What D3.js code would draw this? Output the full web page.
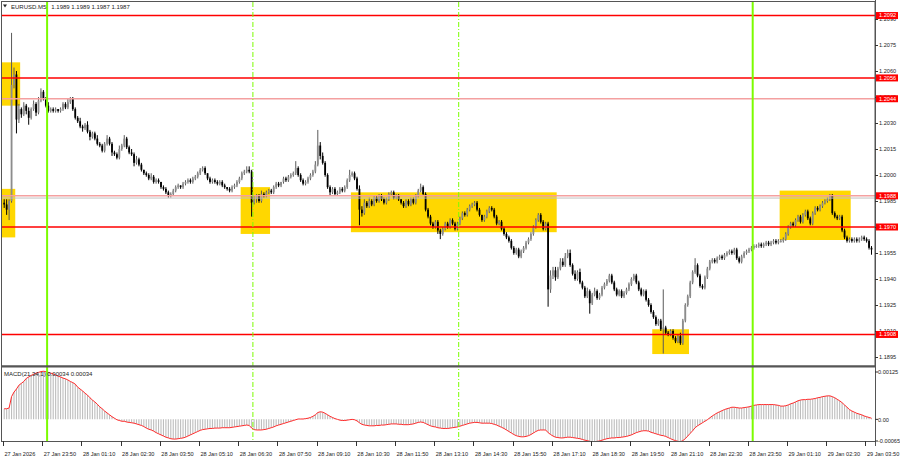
<!DOCTYPE html>
<html>
<head>
<meta charset="utf-8">
<script src="https://cdn.jsdelivr.net/npm/d3@7"></script>
<style>
  body { margin: 0; background: #fff; }
  svg text { font-family: "Liberation Sans", Arial, sans-serif; }
</style>
</head>
<body>
<div id="chart"></div>
<script>
// EURUSD M5, first bar 27 Jan 22:30 (server time), one value per 5-minute bar
const startTime = Date.UTC(2026, 0, 27, 22, 30);
const barMinutes = 5;

// closes in pips above 1.1900
const firstOpen = 84;
const closes = [
  83, 80, 85, 152, 158, 132, 138, 135, 140, 137,
  133, 138, 141, 136, 143, 148, 144, 140, 137, 138,
  137, 138, 137, 138, 141, 139, 142, 144, 138, 133,
  131, 128, 127, 129, 125, 122, 124, 121, 118, 117,
  114, 118, 121, 118, 113, 112, 110, 115, 117, 121,
  116, 113, 112, 107, 109, 106, 103, 101, 100, 98,
  99, 96, 97, 96, 93, 92, 90, 88, 89, 91,
  93, 94, 93, 95, 96, 97, 96, 98, 99, 101,
  103, 104, 101, 98, 96, 97, 96, 95, 96, 94,
  93, 92, 91, 93, 94, 96, 98, 101, 102, 103,
  102, 84, 86, 88, 85, 89, 88, 90, 91, 90,
  93, 95, 94, 96, 98, 97, 99, 100, 101, 104,
  100, 97, 95, 96, 98, 100, 102, 106, 117, 111,
  107, 100, 93, 90, 92, 89, 90, 92, 91, 93,
  97, 100, 101, 98, 92, 80, 78, 84, 82, 85,
  83, 87, 85, 88, 86, 84, 86, 89, 90, 87,
  88, 86, 84, 82, 85, 83, 86, 84, 88, 91,
  93, 89, 80, 76, 72, 70, 73, 68, 66, 69,
  72, 70, 74, 72, 69, 72, 75, 78, 77, 80,
  82, 83, 84, 80, 77, 74, 76, 79, 81, 80,
  76, 72, 73, 69, 66, 64, 62, 58, 55, 57,
  53, 56, 58, 61, 63, 66, 70, 74, 77, 73,
  69, 72, 34, 42, 45, 41, 46, 50, 48, 53,
  55, 48, 43, 40, 44, 38, 35, 30, 33, 26,
  31, 33, 29, 31, 35, 37, 39, 42, 38, 34,
  31, 33, 30, 32, 34, 37, 40, 42, 38, 34,
  31, 33, 28, 25, 21, 18, 14, 16, 11, 12,
  9, 8, 10, 6, 4, 7, 3, 16, 25, 30,
  38, 44, 48, 42, 36, 35, 41, 46, 50, 51,
  50, 52, 53, 52, 54, 55, 56, 55, 57, 52,
  50, 53, 55, 56, 57, 58, 59, 59, 60, 59,
  60, 61, 60, 61, 62, 61, 62, 62, 63, 66,
  70, 72, 71, 74, 76, 73, 77, 79, 75, 72,
  78, 81, 80, 82, 84, 85, 86, 88, 78, 76,
  75, 76, 68, 64, 62, 63, 62, 63, 62, 63,
  64, 63, 62, 58, 57
];

// wick lengths in pips above / below the body
const wickUp = [
  2, 3, 1, 30, 4, 2, 3, 1, 2, 1,
  2, 1, 2, 1, 2, 2, 1, 1, 2, 1,
  1, 1, 0, 1, 1, 1, 2, 1, 1, 1,
  1, 2, 1, 1, 2, 1, 1, 1, 2, 1,
  1, 1, 2, 1, 1, 1, 1, 2, 1, 2,
  1, 1, 2, 1, 2, 1, 1, 0, 1, 1,
  2, 1, 1, 1, 0, 1, 1, 1, 1, 1,
  1, 1, 0, 1, 1, 1, 1, 1, 1, 1,
  1, 1, 1, 0, 1, 1, 1, 1, 1, 1,
  1, 0, 1, 1, 1, 1, 1, 1, 1, 2,
  2, 1, 2, 1, 1, 2, 1, 1, 1, 1,
  1, 1, 1, 0, 1, 1, 1, 1, 1, 4,
  1, 1, 1, 1, 1, 1, 1, 2, 9, 2,
  2, 1, 1, 1, 1, 1, 1, 1, 1, 1,
  1, 3, 1, 1, 1, 2, 2, 2, 1, 2,
  1, 1, 1, 1, 1, 1, 1, 1, 1, 1,
  1, 1, 0, 1, 1, 1, 1, 1, 1, 1,
  2, 1, 1, 1, 1, 1, 1, 1, 1, 1,
  1, 1, 1, 1, 1, 1, 1, 1, 1, 1,
  1, 1, 1, 1, 1, 0, 1, 1, 1, 1,
  1, 1, 1, 1, 1, 1, 1, 1, 1, 1,
  1, 1, 1, 1, 1, 1, 1, 1, 1, 1,
  1, 1, 1, 3, 2, 2, 1, 2, 2, 2,
  2, 2, 1, 2, 1, 2, 1, 1, 2, 1,
  1, 2, 1, 1, 1, 1, 1, 1, 1, 1,
  1, 1, 1, 1, 1, 1, 1, 1, 1, 1,
  1, 1, 1, 1, 1, 1, 1, 1, 1, 22,
  1, 1, 1, 1, 1, 1, 2, 1, 1, 1,
  1, 1, 4, 1, 1, 1, 1, 1, 1, 1,
  1, 1, 1, 1, 1, 1, 1, 1, 1, 1,
  1, 1, 1, 1, 1, 1, 1, 1, 1, 1,
  1, 1, 1, 1, 1, 1, 1, 1, 1, 1,
  1, 1, 1, 1, 1, 1, 1, 1, 1, 1,
  1, 1, 1, 1, 1, 1, 1, 1, 1, 1,
  1, 1, 1, 1, 1, 1, 1, 1, 1, 1,
  1, 1, 1, 1, 1
];
const wickDn = [
  2, 3, 6, 1, 2, 8, 2, 2, 1, 2,
  4, 1, 1, 2, 1, 1, 1, 1, 1, 1,
  1, 1, 1, 1, 1, 1, 1, 1, 1, 1,
  1, 1, 2, 1, 1, 2, 1, 1, 1, 1,
  1, 1, 1, 1, 2, 1, 1, 1, 1, 1,
  1, 1, 1, 2, 1, 1, 1, 1, 1, 1,
  1, 1, 1, 1, 1, 1, 1, 1, 1, 1,
  1, 1, 1, 1, 1, 1, 1, 1, 1, 1,
  1, 1, 1, 1, 1, 1, 1, 1, 1, 1,
  1, 1, 1, 1, 1, 1, 1, 1, 1, 1,
  1, 8, 1, 2, 1, 1, 1, 1, 1, 1,
  1, 1, 1, 1, 1, 1, 1, 1, 1, 1,
  1, 1, 1, 1, 1, 1, 1, 1, 1, 2,
  1, 1, 1, 2, 1, 1, 1, 1, 1, 1,
  1, 1, 1, 1, 1, 9, 2, 1, 1, 1,
  1, 1, 1, 1, 1, 1, 1, 1, 1, 1,
  1, 1, 1, 1, 1, 1, 1, 1, 1, 1,
  1, 1, 1, 1, 1, 1, 1, 2, 3, 1,
  1, 1, 1, 1, 1, 1, 1, 1, 1, 1,
  1, 1, 1, 1, 1, 1, 1, 1, 1, 1,
  1, 1, 1, 1, 1, 1, 1, 1, 1, 1,
  1, 1, 1, 1, 1, 1, 1, 1, 1, 1,
  1, 1, 10, 2, 2, 2, 1, 1, 1, 1,
  1, 1, 1, 1, 1, 1, 1, 1, 1, 6,
  1, 1, 1, 1, 1, 1, 1, 1, 1, 1,
  1, 1, 1, 1, 1, 1, 1, 1, 1, 1,
  1, 1, 1, 1, 1, 1, 1, 1, 1, 14,
  1, 1, 1, 1, 1, 1, 1, 1, 1, 1,
  1, 1, 1, 1, 1, 1, 1, 1, 1, 1,
  1, 1, 1, 1, 1, 1, 1, 1, 1, 1,
  1, 1, 1, 1, 1, 1, 1, 1, 1, 1,
  1, 1, 1, 1, 1, 1, 1, 1, 1, 1,
  1, 1, 1, 1, 1, 1, 1, 1, 1, 1,
  1, 1, 1, 1, 1, 1, 1, 1, 1, 1,
  1, 1, 1, 1, 1, 1, 1, 1, 1, 1,
  1, 1, 1, 1, 3
];

// MACD(21,34,1) main line, units of 0.00001
const macd = [
  28, 28, 30, 60, 72, 80, 90, 95, 100, 108,
  112, 116, 119, 122, 124, 126, 127, 126, 124, 122,
  120, 117, 114, 112, 109, 107, 104, 100, 97, 93,
  85, 80, 75, 69, 64, 57, 51, 46, 40, 33,
  28, 22, 17, 12, 7, 3, -1, -3, -5, -5,
  -7, -8, -9, -10, -12, -14, -16, -19, -23, -26,
  -28, -31, -35, -38, -41, -44, -47, -49, -51, -52,
  -52, -51, -50, -49, -47, -44, -41, -38, -35, -32,
  -29, -27, -26, -25, -24, -24, -23, -23, -23, -22,
  -22, -22, -22, -21, -20, -19, -18, -17, -16, -15,
  -16, -23, -27, -28, -28, -28, -27, -26, -24, -22,
  -20, -17, -15, -13, -11, -9, -7, -5, -3, -1,
  1, 1, 1, 2, 3, 5, 8, 12, 18, 20,
  19, 16, 12, 8, 5, 2, 0, -2, -3, -3,
  -2, -1, 0, -1, -4, -9, -13, -15, -16, -17,
  -17, -17, -16, -16, -15, -15, -14, -13, -12, -12,
  -12, -13, -13, -14, -14, -14, -13, -12, -10, -8,
  -7, -8, -11, -14, -17, -19, -20, -22, -23, -24,
  -24, -24, -23, -22, -21, -20, -18, -16, -14, -12,
  -10, -9, -8, -8, -9, -10, -10, -10, -10, -11,
  -13, -15, -18, -21, -24, -28, -32, -36, -40, -43,
  -45, -46, -46, -45, -43, -40, -36, -32, -29, -28,
  -28, -28, -35, -40, -44, -47, -48, -49, -49, -48,
  -47, -47, -48, -49, -50, -51, -53, -55, -56, -58,
  -59, -59, -58, -57, -55, -53, -51, -50, -49, -49,
  -48, -48, -47, -46, -45, -43, -41, -38, -35, -33,
  -31, -30, -30, -31, -34, -36, -38, -40, -42, -43,
  -45, -48, -51, -54, -56, -58, -59, -56, -51, -44,
  -37, -30, -22, -17, -13, -9, -5, -1, 4, 9,
  13, 17, 20, 23, 26, 28, 30, 32, 32, 31,
  30, 30, 31, 32, 33, 35, 37, 38, 39, 39,
  39, 39, 39, 39, 39, 38, 37, 35, 35, 36,
  38, 41, 43, 46, 49, 51, 52, 52, 53, 53,
  54, 55, 57, 58, 60, 61, 62, 62, 60, 57,
  53, 49, 44, 38, 32, 26, 22, 19, 16, 14,
  12, 9, 7, 5, 3
];

const priceTicks = [1.2090, 1.2075, 1.2060, 1.2045, 1.2030, 1.2015, 1.2000,
                    1.1985, 1.1970, 1.1955, 1.1940, 1.1925, 1.1910, 1.1895];
const macdTicks = [0.00125, 0, -0.00065];
const macdTickLabels = ["0.00125", "0.00", "-0.00065"];

// horizontal levels (strong = red, weak = pink)
const strongLevels = [1.2092, 1.2056, 1.1970, 1.1908];
const weakLevels = [1.2044, 1.1988];
const bidPrice = 1.1987;

// session separators
const dayLines = ["2026-01-28T00:00Z", "2026-01-29T00:00Z"];
const sessionLines = ["2026-01-28T07:00Z", "2026-01-28T14:00Z"];

// highlighted zones: start, end, top price, bottom price
const zones = [
  ["2026-01-27T22:25Z", "2026-01-27T23:05Z", 1.2065, 1.2040],
  ["2026-01-27T22:25Z", "2026-01-27T22:55Z", 1.1992, 1.1964],
  ["2026-01-28T06:35Z", "2026-01-28T07:35Z", 1.1993, 1.1966],
  ["2026-01-28T10:20Z", "2026-01-28T17:20Z", 1.1990, 1.1967],
  ["2026-01-29T00:55Z", "2026-01-29T03:20Z", 1.1991, 1.19625],
  ["2026-01-28T20:35Z", "2026-01-28T21:50Z", 1.1911, 1.18967]
];

const headerText = "EURUSD.M5";
const headerValues = "1.1989 1.1989 1.1987 1.1987";
const macdTitle = "MACD(21,34,1) 0.00034 0.00034";

// ---------------------------------------------------------------
const W = 900, H = 460;
const plotL = 2, plotR = 875;
const mainT = 2, mainB = 366;
const subT = 367, subB = 441;
const step = barMinutes * 60000;
const pip = v => 1.19 + v / 10000;
const fs = 5.6;

const bars = closes.map((c, i) => {
  const o = i === 0 ? firstOpen : closes[i - 1];
  const hi = Math.max(o, c) + wickUp[i];
  const lo = Math.min(o, c) - wickDn[i];
  return { t: new Date(startTime + i * step), o: pip(o), c: pip(c), h: pip(hi), l: pip(lo), m: macd[i] / 100000 };
});

const x = d3.scaleUtc()
  .domain([new Date(startTime), new Date(startTime + closes.length * step)])
  .range([3, 3 + 2.45 * closes.length]);
const cx = d => x(d.t) + 1.2;

const y = d3.scaleLinear().domain([1.2090, 1.1895]).range([19, 357]);
const ym = d3.scaleLinear().domain([-0.00065, 0.00125]).range([444, 372]);

const svg = d3.select("#chart").append("svg")
  .attr("width", W).attr("height", H);

svg.append("rect").attr("width", W).attr("height", H).attr("fill", "#fff");

const defs = svg.append("defs");
defs.append("clipPath").attr("id", "clipMain").append("rect")
  .attr("x", plotL).attr("y", mainT).attr("width", plotR - plotL).attr("height", mainB - mainT);
defs.append("clipPath").attr("id", "clipSub").append("rect")
  .attr("x", plotL).attr("y", subT).attr("width", plotR - plotL).attr("height", subB - subT);

const main = svg.append("g").attr("clip-path", "url(#clipMain)");
const sub = svg.append("g").attr("clip-path", "url(#clipSub)");

// zones
main.selectAll("rect.zone").data(zones).join("rect")
  .attr("class", "zone")
  .attr("x", d => x(new Date(d[0])))
  .attr("width", d => x(new Date(d[1])) - x(new Date(d[0])))
  .attr("y", d => y(d[2]))
  .attr("height", d => y(d[3]) - y(d[2]))
  .attr("fill", "#ffd700");

// vertical separators across both panels
const vlines = svg.append("g");
vlines.selectAll("line.day").data(dayLines).join("line")
  .attr("x1", d => x(new Date(d))).attr("x2", d => x(new Date(d)))
  .attr("y1", mainT).attr("y2", subB)
  .attr("stroke", "#7cfc00").attr("stroke-width", 2);
vlines.selectAll("line.sess").data(sessionLines).join("line")
  .attr("x1", d => x(new Date(d))).attr("x2", d => x(new Date(d)))
  .attr("y1", mainT).attr("y2", subB)
  .attr("stroke", "#7cfc00").attr("stroke-width", 1)
  .attr("stroke-dasharray", "5,2,1,2");

// candles
const candles = main.append("g");
candles.selectAll("line").data(bars).join("line")
  .attr("x1", cx).attr("x2", cx)
  .attr("y1", d => y(d.h)).attr("y2", d => y(d.l))
  .attr("stroke", d => d.c >= d.o ? "#5a5a5a" : "#000")
  .attr("stroke-width", 1);
candles.selectAll("rect").data(bars).join("rect")
  .attr("x", d => cx(d) - 0.9)
  .attr("width", 1.8)
  .attr("y", d => y(Math.max(d.o, d.c)))
  .attr("height", d => Math.max(1, Math.abs(y(d.o) - y(d.c))))
  .attr("fill", d => d.c >= d.o ? "#8c8c8c" : "#000");

// horizontal levels
main.append("line")
  .attr("x1", plotL).attr("x2", plotR)
  .attr("y1", y(bidPrice) + 0.5).attr("y2", y(bidPrice) + 0.5)
  .attr("stroke", "#c0c0c0").attr("stroke-width", 1);
main.selectAll("line.weak").data(weakLevels).join("line")
  .attr("x1", plotL).attr("x2", plotR)
  .attr("y1", d => y(d)).attr("y2", d => y(d))
  .attr("stroke", "#f4a0a0").attr("stroke-width", 1.6);
main.selectAll("line.strong").data(strongLevels).join("line")
  .attr("x1", plotL).attr("x2", plotR)
  .attr("y1", d => y(d)).attr("y2", d => y(d))
  .attr("stroke", "#ff0000").attr("stroke-width", 1.6);

// MACD histogram and signal
sub.selectAll("line.hist").data(bars).join("line")
  .attr("x1", cx).attr("x2", cx)
  .attr("y1", ym(0)).attr("y2", d => ym(d.m))
  .attr("stroke", "#bdbdbd").attr("stroke-width", 1.1);
sub.append("path")
  .datum(bars)
  .attr("d", d3.line().x(cx).y(d => ym(d.m)))
  .attr("fill", "none").attr("stroke", "#ff2a2a").attr("stroke-width", 1);

// frames
svg.append("rect").attr("x", 1.5).attr("y", 1.5).attr("width", plotR - 1.5).attr("height", mainB - 1.5)
  .attr("fill", "none").attr("stroke", "#555");
svg.append("line").attr("x1", 1).attr("x2", plotR).attr("y1", 366.5).attr("y2", 366.5)
  .attr("stroke", "#555").attr("stroke-width", 2);
svg.append("line").attr("x1", 1).attr("x2", plotR + 0.5).attr("y1", subB + 0.5).attr("y2", subB + 0.5)
  .attr("stroke", "#555");
svg.append("line").attr("x1", 1.5).attr("x2", 1.5).attr("y1", subT).attr("y2", subB)
  .attr("stroke", "#555");
svg.append("line").attr("x1", plotR + 0.5).attr("x2", plotR + 0.5).attr("y1", 0).attr("y2", 446)
  .attr("stroke", "#555");

// price axis
const pAxis = svg.append("g");
pAxis.selectAll("line").data(priceTicks).join("line")
  .attr("x1", plotR).attr("x2", plotR + 3)
  .attr("y1", d => Math.round(y(d)) + 0.5).attr("y2", d => Math.round(y(d)) + 0.5)
  .attr("stroke", "#333");
pAxis.selectAll("text").data(priceTicks).join("text")
  .attr("x", plotR + 4).attr("y", d => y(d)).attr("dy", "0.35em")
  .attr("font-size", fs).attr("fill", "#222")
  .text(d => d.toFixed(4));

// level price tags
const tags = svg.append("g");
const allLevels = strongLevels.concat(weakLevels);
tags.selectAll("rect").data(allLevels).join("rect")
  .attr("x", plotR + 1).attr("width", 22)
  .attr("y", d => y(d) - 3.5).attr("height", 7)
  .attr("fill", "#ff0000");
tags.selectAll("text").data(allLevels).join("text")
  .attr("x", plotR + 4).attr("y", d => y(d)).attr("dy", "0.35em")
  .attr("font-size", fs).attr("fill", "#fff")
  .text(d => d.toFixed(4));

// MACD axis
const mAxis = svg.append("g");
mAxis.selectAll("line").data(macdTicks).join("line")
  .attr("x1", plotR).attr("x2", plotR + 3)
  .attr("y1", d => Math.min(ym(d), subB)).attr("y2", d => Math.min(ym(d), subB))
  .attr("stroke", "#333");
mAxis.selectAll("text").data(macdTicks).join("text")
  .attr("x", plotR + 3).attr("y", (d, i) => [372, 420.5, 441.5][i]).attr("dy", "0.35em")
  .attr("font-size", fs).attr("fill", "#222")
  .text((d, i) => macdTickLabels[i]);

// time axis
const tickBars = d3.range(0, closes.length, 16).map(i => bars[i]);
const fmt = d3.utcFormat("%d %b %H:%M");
const tAxis = svg.append("g");
tAxis.selectAll("line").data(tickBars).join("line")
  .attr("x1", d => Math.round(x(d.t)) + 0.5).attr("x2", d => Math.round(x(d.t)) + 0.5)
  .attr("y1", subB).attr("y2", subB + 5)
  .attr("stroke", "#333");
tAxis.selectAll("text").data(tickBars).join("text")
  .attr("x", d => x(d.t) + 1.5).attr("y", 455.5)
  .attr("font-size", fs).attr("fill", "#222")
  .text((d, i) => i === 0 ? d3.utcFormat("%d %b %Y")(d.t) : fmt(d.t));

// titles
svg.append("path").attr("d", "M3,4.5 L7,4.5 L5,7.5 Z").attr("fill", "#222");
const hdr = svg.append("text").attr("x", 11).attr("y", 8.5).attr("font-size", 6).attr("fill", "#222").text(headerText);
svg.append("text").attr("x", 11 + hdr.node().getComputedTextLength() + 5).attr("y", 8.5)
  .attr("font-size", 6).attr("fill", "#222").text(headerValues);
svg.append("text").attr("x", 4).attr("y", 375.5).attr("font-size", 6).attr("fill", "#222").text(macdTitle);
</script>
</body>
</html>
